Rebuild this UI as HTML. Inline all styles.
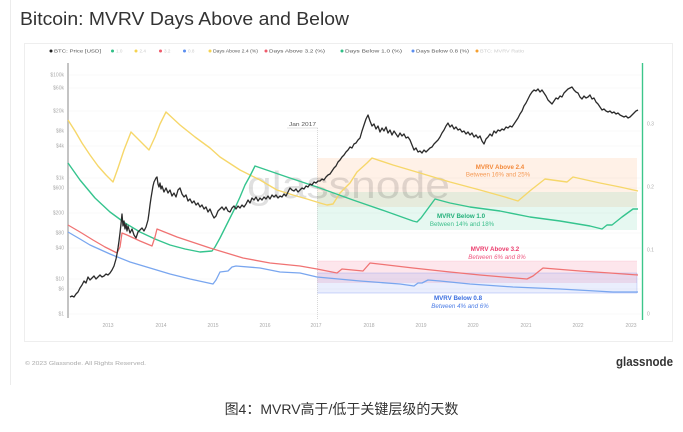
<!DOCTYPE html>
<html>
<head>
<meta charset="utf-8">
<style>
  html,body{margin:0;padding:0;background:#fff;}
  svg{display:block;}
  text{font-family:"Liberation Sans","Noto Sans CJK SC",sans-serif;}
</style>
</head>
<body>
<svg width="683" height="432" viewBox="0 0 683 432" xmlns="http://www.w3.org/2000/svg">
  <!-- outer card border -->
  <line x1="10.5" y1="0" x2="10.5" y2="385" stroke="#ececec" stroke-width="1"/>
  <!-- title -->
  <text x="20" y="25" font-size="18" fill="#333" textLength="329" lengthAdjust="spacingAndGlyphs">Bitcoin: MVRV Days Above and Below</text>
  <!-- chart box -->
  <rect x="24.5" y="43.5" width="648" height="298" fill="#fff" stroke="#eeeeee" stroke-width="1"/>

  <!-- legend -->
  <g font-size="4.6" fill="#555">
    <circle cx="51" cy="51" r="1.5" fill="#222"/><text x="54" y="52.6" textLength="47" lengthAdjust="spacingAndGlyphs">BTC: Price [USD]</text>
    <circle cx="112.5" cy="51" r="1.5" fill="#2fbf86"/><text x="116" y="52.6" fill="#ccc">1.0</text>
    <circle cx="136" cy="51" r="1.5" fill="#f5d350"/><text x="139.5" y="52.6" fill="#ccc">2.4</text>
    <circle cx="160.5" cy="51" r="1.5" fill="#ef5b6b"/><text x="164" y="52.6" fill="#ccc">3.2</text>
    <circle cx="184.5" cy="51" r="1.5" fill="#5b8ef0"/><text x="188" y="52.6" fill="#ccc">0.8</text>
    <circle cx="210" cy="51" r="1.5" fill="#f5d350"/><text x="213" y="52.6" textLength="45" lengthAdjust="spacingAndGlyphs">Days Above 2.4 (%)</text>
    <circle cx="266" cy="51" r="1.5" fill="#ef5b6b"/><text x="269" y="52.6" textLength="56" lengthAdjust="spacingAndGlyphs">Days Above 3.2 (%)</text>
    <circle cx="342" cy="51" r="1.5" fill="#2fbf86"/><text x="345" y="52.6" textLength="57" lengthAdjust="spacingAndGlyphs">Days Below 1.0 (%)</text>
    <circle cx="413" cy="51" r="1.5" fill="#5b8ef0"/><text x="416" y="52.6" textLength="53" lengthAdjust="spacingAndGlyphs">Days Below 0.8 (%)</text>
    <circle cx="477" cy="51" r="1.5" fill="#f5a030"/><text x="480" y="52.6" fill="#ccc" textLength="44" lengthAdjust="spacingAndGlyphs">BTC: MVRV Ratio</text>
  </g>

  <!-- gridlines -->
  <g stroke="#f1f1f1" stroke-width="0.6">
    <line x1="69" y1="75" x2="641" y2="75"/>
    <line x1="69" y1="88" x2="641" y2="88"/>
    <line x1="69" y1="111" x2="641" y2="111"/>
    <line x1="69" y1="131" x2="641" y2="131"/>
    <line x1="69" y1="146" x2="641" y2="146"/>
    <line x1="69" y1="178" x2="641" y2="178"/>
    <line x1="69" y1="188" x2="641" y2="188"/>
    <line x1="69" y1="213" x2="641" y2="213"/>
    <line x1="69" y1="233" x2="641" y2="233"/>
    <line x1="69" y1="248" x2="641" y2="248"/>
    <line x1="69" y1="279" x2="641" y2="279"/>
    <line x1="69" y1="289" x2="641" y2="289"/>
    <line x1="69" y1="314" x2="641" y2="314"/>
  </g>

  <!-- left axis labels -->
  <g font-size="5" fill="#aaa" text-anchor="end">
    <text x="64" y="76.5">$100k</text>
    <text x="64" y="89.5">$60k</text>
    <text x="64" y="112.5">$20k</text>
    <text x="64" y="132.5">$8k</text>
    <text x="64" y="147.5">$4k</text>
    <text x="64" y="179.5">$1k</text>
    <text x="64" y="189.5">$600</text>
    <text x="64" y="214.5">$200</text>
    <text x="64" y="234.5">$80</text>
    <text x="64" y="249.5">$40</text>
    <text x="64" y="280.5">$10</text>
    <text x="64" y="290.5">$6</text>
    <text x="64" y="315.5">$1</text>
  </g>
  <!-- left axis line -->
  <line x1="68" y1="63" x2="68" y2="318" stroke="#b5b5b5" stroke-width="1.6"/>

  <!-- right axis -->
  <line x1="642.5" y1="63" x2="642.5" y2="320" stroke="#3cc68a" stroke-width="1.4"/>
  <g font-size="5" fill="#aaa">
    <text x="647" y="125.5">0.3</text>
    <text x="647" y="188.5">0.2</text>
    <text x="647" y="251.5">0.1</text>
    <text x="647" y="315.5">0</text>
  </g>

  <!-- x labels -->
  <g font-size="5" fill="#aaa" text-anchor="middle">
    <text x="108" y="327">2013</text>
    <text x="161" y="327">2014</text>
    <text x="213" y="327">2015</text>
    <text x="265" y="327">2016</text>
    <text x="316" y="327">2017</text>
    <text x="369" y="327">2018</text>
    <text x="421" y="327">2019</text>
    <text x="473" y="327">2020</text>
    <text x="526" y="327">2021</text>
    <text x="578" y="327">2022</text>
    <text x="631" y="327">2023</text>
  </g>

  <!-- bands -->
  <rect x="317" y="158" width="320" height="49" fill="rgba(252,165,105,0.16)"/>
  <rect x="317" y="192" width="320" height="38" fill="rgba(60,200,150,0.13)"/>
  <rect x="317" y="261" width="320" height="22" fill="rgba(240,90,130,0.15)"/>
  <rect x="317" y="273" width="320" height="20" fill="rgba(90,120,240,0.13)"/>
  <line x1="317" y1="273" x2="637" y2="273" stroke="rgba(90,120,240,0.45)" stroke-width="0.6"/>
  <line x1="317" y1="293" x2="637" y2="293" stroke="rgba(90,120,240,0.55)" stroke-width="0.6"/>
  <line x1="637" y1="273" x2="637" y2="293" stroke="rgba(90,120,240,0.4)" stroke-width="0.6"/>
  <line x1="317" y1="261" x2="637" y2="261" stroke="rgba(240,90,130,0.25)" stroke-width="0.5"/>

  <!-- Jan 2017 marker -->
  <line x1="317.5" y1="128" x2="317.5" y2="320" stroke="#c8c8c8" stroke-width="0.7" stroke-dasharray="1,1"/>
  <line x1="287" y1="128" x2="318" y2="128" stroke="#c8c8c8" stroke-width="0.6"/>
  <text x="289" y="126" font-size="5.6" fill="#555" textLength="27" lengthAdjust="spacingAndGlyphs">Jan 2017</text>

  <!-- watermark -->
  <text x="247" y="198" font-size="38" fill="rgba(0,0,0,0.12)" textLength="203" lengthAdjust="spacingAndGlyphs">glassnode</text>

  <!-- yellow: Days Above 2.4 -->
  <polyline fill="none" stroke="#f6d76a" stroke-width="1.4" stroke-linejoin="round" points="68,120 75,131 82,143 90,155 98,166 106,175 113,182 118,168 124,150 131,132 140,141 149,150 155,137 160,124 166,112 180,125 195,137 210,148 220,157 240,170 260,180 277,190 293,195 307,199 320,203 327,205 333,204 340,193 350,183 357,172 367,163 372,158 393,165 420,173 450,182 480,190 505,197 518,201 531,190 545,179 567,182 573,177 600,183 620,187 638,191"/>
  <!-- green: Days Below 1.0 -->
  <polyline fill="none" stroke="#35c48e" stroke-width="1.4" stroke-linejoin="round" points="68,163 80,180 95,198 110,212 125,223 140,232 155,239 170,245 185,249 200,252 212,251 215,247 220,238 225,228 230,218 235,208 240,197 245,185 250,176 255,166 287,177 317,187 353,200 385,211 413,221 417,222 421,218 435,199 450,203 470,207 500,211 530,217 560,221 590,226 602,229 607,225 612,225 622,217 633,209 638,209"/>
  <!-- red: Days Above 3.2 -->
  <polyline fill="none" stroke="#f07373" stroke-width="1.3" stroke-linejoin="round" points="68,225 80,232 93,240 105,247 117,253 120,247 122,233 127,235 140,241 152,246 155,237 157,229 177,237 195,243 210,248 243,258 270,263 300,266 317,269 337,273 342,269 363,271 370,263 413,268 450,272 480,275 527,279 533,276 543,268 580,271 610,273 638,275"/>
  <!-- blue: Days Below 0.8 -->
  <polyline fill="none" stroke="#79a6ef" stroke-width="1.3" stroke-linejoin="round" points="68,232 80,239 90,245 110,254 130,262 150,268 170,274 190,279 213,284 216,280 220,272 228,271 232,267 236,266 260,268 280,272 300,273 317,277 360,281 400,284 414,286 418,283 422,283 428,280 440,281 470,284 513,287 560,289 613,292 638,292"/>

  <!-- BTC price -->
  <polyline fill="none" stroke="#2b2b2b" stroke-width="1.3" stroke-linejoin="round" points="70,297 72,296 74,297 76,294 78,292 80,288 82,285 84,281 86,283 88,277 90,280 92,278 94,276 96,279 98,277 100,275 102,277 104,276 106,274 108,275 110,273 112,270 114,266 116,259 117,254 118,248 119,241 120,233 121,224 122,214 123,226 124,221 125,229 126,224 127,231 128,226 130,233 132,229 134,235 136,238 138,232 140,230 142,228 144,231 146,227 148,220 149,213 150,205 151,198 152,192 153,186 154,182 155,180 156,178 157,177 158,184 159,187 160,183 161,189 162,186 164,192 166,188 168,193 170,190 172,196 174,193 176,197 178,190 180,188 182,194 184,197 186,195 188,201 190,199 192,203 194,201 196,205 198,203 200,207 202,205 204,209 206,207 208,212 210,209 212,214 214,218 216,216 218,211 220,209 222,207 224,210 226,207 228,211 230,212 232,208 234,206 236,209 238,206 240,208 242,205 244,207 246,204 248,200 250,203 252,198 254,200 256,197 258,201 260,198 262,200 264,197 266,199 268,196 270,199 272,195 274,197 276,195 278,198 280,196 282,197 284,194 286,196 288,192 290,188 292,190 294,191 296,189 298,192 300,190 302,188 304,189 306,186 308,187 310,184 312,185 314,182 316,183 318,181 320,181 322,179 324,180 326,177 328,175 330,174 332,171 334,168 336,166 338,162 340,160 342,157 344,155 346,152 348,150 350,147 352,148 354,144 356,143 358,140 360,138 362,131 364,125 366,119 368,115 370,121 372,126 374,124 376,129 378,126 380,132 382,128 384,131 386,127 388,133 390,130 392,135 394,131 396,134 398,137 400,133 402,136 404,134 406,138 408,137 410,140 412,145 414,150 416,148 418,152 420,151 422,153 424,150 426,152 428,150 430,148 432,147 434,144 436,142 438,140 440,137 442,133 444,130 446,126 448,123 450,127 452,125 454,129 456,127 458,130 460,129 462,132 464,131 466,134 468,132 470,135 472,133 474,137 476,135 478,138 480,136 482,141 484,144 486,139 488,137 490,134 492,136 494,131 496,133 498,130 500,131 502,129 504,130 506,127 508,128 510,126 512,127 514,124 516,121 518,118 520,114 522,111 524,106 526,103 528,99 530,95 532,92 534,90 536,91 538,89 540,92 542,90 544,93 546,96 548,100 550,102 552,104 554,101 556,98 558,99 560,96 562,97 564,93 566,91 568,89 570,88 572,87 574,90 576,92 578,93 580,97 582,99 584,96 586,98 588,97 590,95 592,99 594,98 596,102 598,104 600,107 602,110 604,109 606,111 608,112 610,111 612,113 614,112 616,114 618,113 620,115 622,116 624,117 626,116 628,118 630,117 632,115 634,113 636,111 638,110"/>

  <!-- band annotations -->
  <g text-anchor="middle" font-size="6.2">
    <text x="500" y="169" fill="#f38a3c" font-weight="bold">MVRV Above 2.4</text>
    <text x="498" y="176.5" fill="#f59a55">Between 16% and 25%</text>
    <text x="461" y="218" fill="#22b07a" font-weight="bold">MVRV Below 1.0</text>
    <text x="462" y="226" fill="#3cbf8c">Between 14% and 18%</text>
    <text x="495" y="251" fill="#ec3d6d" font-weight="bold">MVRV Above 3.2</text>
    <text x="497" y="259" fill="#ef5a82" font-style="italic">Between 6% and 8%</text>
    <text x="458" y="300" fill="#3a6de0" font-weight="bold">MVRV Below 0.8</text>
    <text x="460" y="308" fill="#4f7fe6" font-style="italic">Between 4% and 6%</text>
  </g>

  <!-- footer -->
  <text x="25" y="365" font-size="5.4" fill="#aaa" textLength="121" lengthAdjust="spacingAndGlyphs">© 2023 Glassnode. All Rights Reserved.</text>
  <text x="616" y="366" font-size="13" fill="#333" font-weight="bold" textLength="57" lengthAdjust="spacingAndGlyphs">glassnode</text>

  <!-- caption -->
  <text x="341.5" y="414" font-size="14" fill="#333" text-anchor="middle" font-family="Liberation Sans, Noto Sans CJK SC, sans-serif">图4：MVRV高于/低于关键层级的天数</text>
</svg>
</body>
</html>
